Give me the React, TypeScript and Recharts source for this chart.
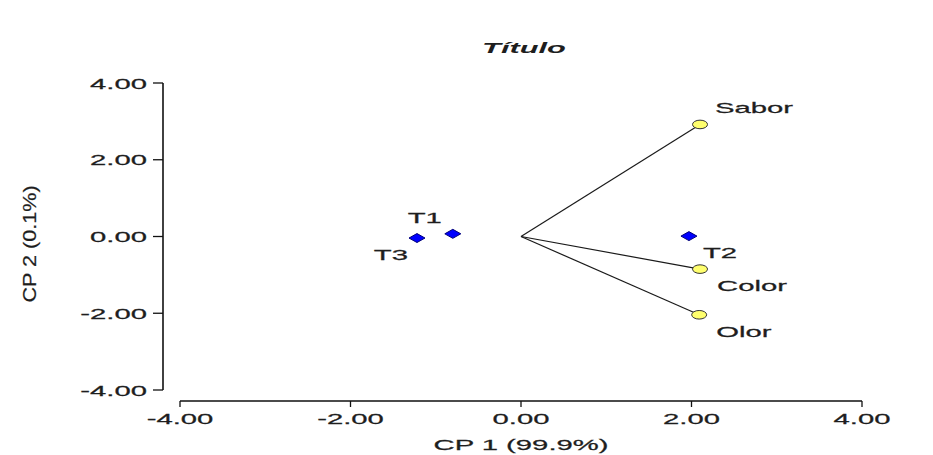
import React from 'react';
import { ScatterChart, Scatter, XAxis, YAxis, ReferenceLine } from 'recharts';

const treatments = ['T1', 'T2', 'T3'];
const treatX = [-0.8, 1.97, -1.22];
const treatY = [0.07, 0.01, -0.04];

const variables = ['Sabor', 'Color', 'Olor'];
const varX = [2.1, 2.1, 2.09];
const varY = [2.92, -0.85, -2.04];

const axisTicks = [-4, -2, 0, 2, 4];

const FONT = '"Liberation Sans", Arial, sans-serif';
const INK = '#1e1e1e';
const SX = 1.95; // the reference text is drawn wide

// where each point's name sits relative to its marker
const labelPlace: Record<string, [number, number, 'start' | 'end']> = {
  T1: [-11, -11, 'end'],
  T2: [14, 22, 'start'],
  T3: [-9, 22, 'end'],
  Sabor: [15, -11, 'start'],
  Color: [17, 22, 'start'],
  Olor: [17, 22, 'start'],
};

const treatData = treatments.map((name, i) => ({ name, x: treatX[i], y: treatY[i] }));
const varData = variables.map((name, i) => ({ name, x: varX[i], y: varY[i] }));

function WideText({ x, y, anchor, size = 15, children }: any) {
  return (
    <text
      transform={`translate(${x},${y}) scale(${SX},1)`}
      textAnchor={anchor}
      fontFamily={FONT}
      fontSize={size}
      fill={INK}
      stroke={INK}
      strokeWidth={0.25}
    >
      {children}
    </text>
  );
}

function PointLabel({ cx, cy, name }: any) {
  const [dx, dy, anchor] = labelPlace[name];
  return (
    <WideText x={cx + dx} y={cy + dy} anchor={anchor}>
      {name}
    </WideText>
  );
}

function Diamond(props: any) {
  const { cx, cy, payload } = props;
  return (
    <g>
      <path
        d={`M${cx - 8},${cy} L${cx},${cy - 4.5} L${cx + 8},${cy} L${cx},${cy + 4.5} Z`}
        fill="#0000ff"
        stroke="#00007a"
        strokeWidth={1}
      />
      <PointLabel cx={cx} cy={cy} name={payload.name} />
    </g>
  );
}

function YellowDot(props: any) {
  const { cx, cy, payload } = props;
  return (
    <g>
      <ellipse cx={cx} cy={cy} rx={7.5} ry={4.3} fill="#ffff6e" stroke="#333" strokeWidth={1} />
      <PointLabel cx={cx} cy={cy} name={payload.name} />
    </g>
  );
}

const fmt = (v: number) => v.toFixed(2);

function XTick({ x, y, payload }: any) {
  return (
    <WideText x={x} y={y + 15} anchor="middle">
      {fmt(payload.value)}
    </WideText>
  );
}

function YTick({ x, y, payload }: any) {
  return (
    <WideText x={x} y={y + 5.5} anchor="end">
      {fmt(payload.value)}
    </WideText>
  );
}

export default function App() {
  return (
    <div style={{ position: 'absolute', left: 0, top: 0, width: 933, height: 455, background: '#fff' }}>
      <ScatterChart width={933} height={455} margin={{ top: 83, right: 71, bottom: 0, left: 0 }}>
        <XAxis
          type="number"
          dataKey="x"
          domain={[-4, 4]}
          ticks={axisTicks}
          interval={0}
          padding={{ left: 17, right: 0 }}
          height={54}
          tickSize={6}
          tickMargin={2}
          axisLine={{ stroke: '#111', strokeWidth: 1.6, strokeDasharray: '0 17 682 100' }}
          tickLine={{ stroke: '#111', strokeWidth: 1.3 }}
          tick={<XTick />}
          allowDataOverflow
        />
        <YAxis
          type="number"
          dataKey="y"
          domain={[-4, 4]}
          ticks={axisTicks}
          interval={0}
          padding={{ top: 0, bottom: 11 }}
          width={163}
          tickSize={10}
          tickMargin={6}
          axisLine={{ stroke: '#111', strokeWidth: 1.6, strokeDasharray: '307 100' }}
          tickLine={{ stroke: '#111', strokeWidth: 1.3 }}
          tick={<YTick />}
          allowDataOverflow
        />
        {varData.map((v) => (
          <ReferenceLine
            key={v.name}
            segment={[{ x: 0, y: 0 }, { x: v.x, y: v.y }]}
            stroke="#1a1a1a"
            strokeWidth={1.2}
            ifOverflow="visible"
          />
        ))}
        <Scatter data={treatData} shape={Diamond} isAnimationActive={false} />
        <Scatter data={varData} shape={YellowDot} isAnimationActive={false} />
      </ScatterChart>
      <svg
        width={933}
        height={455}
        style={{ position: 'absolute', left: 0, top: 0, pointerEvents: 'none' }}
      >
        <text
          transform="translate(524,53) scale(2.2,1)"
          textAnchor="middle"
          fontFamily={FONT}
          fontSize={14}
          fontWeight="bold"
          fontStyle="italic"
          fill={INK}
        >
          Título
        </text>
        <WideText x={521} y={450} anchor="middle" size={15}>
          CP 1 (99.9%)
        </WideText>
        <text
          transform="translate(36,244) rotate(-90) scale(1.2,1)"
          textAnchor="middle"
          fontFamily={FONT}
          fontSize={18}
          fill={INK}
          stroke={INK}
          strokeWidth={0.2}
        >
          CP 2 (0.1%)
        </text>
      </svg>
    </div>
  );
}
